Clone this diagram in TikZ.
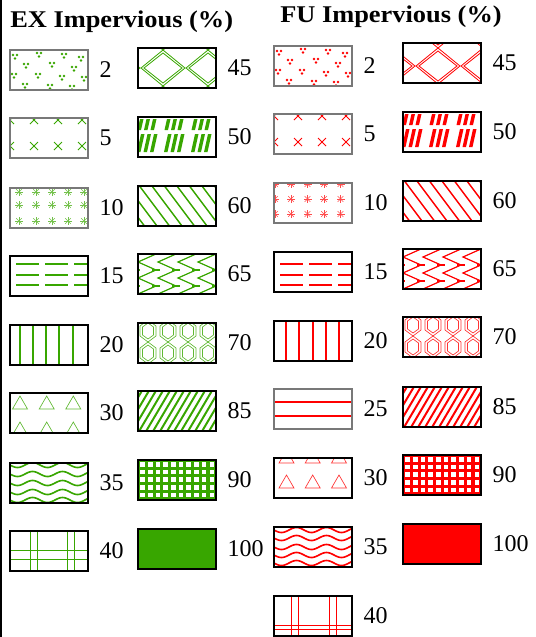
\documentclass[tikz,border=0pt]{standalone}
\usepackage{fontspec}
\setmainfont{Liberation Serif}
\usepackage{graphicx}
\definecolor{exg}{RGB}{56,166,0}
\definecolor{fur}{RGB}{255,0,0}
\definecolor{bgray}{RGB}{120,120,120}
\tikzset{
 boxk/.style={draw=black, line width=1.5pt, minimum width=58.5pt, minimum height=30pt, inner sep=0pt, outer sep=0pt, anchor=north west},
 boxg/.style={boxk, draw=bgray},
 lbl/.style={anchor=west, inner sep=0pt, font=\fontsize{18}{20}\selectfont},
 ttl/.style={anchor=base west, inner sep=0pt, font=\bfseries\fontsize{18}{20}\selectfont},
}
\newcommand{\pbox}[6]{%
  \begin{scope}[shift={(#2,#3)}]
    \clip (0,0) rectangle (78,40);
    #6
  \end{scope}
  \node[#4] (#1) at (#2,#3) {};
  \node[lbl] (#1l) at ([xshift=8.5pt]#1.east) {#5};
}
\newcommand{\pdots}[1]{\foreach \cx/\cy in {3/5, 27/3, 52/4, 69/7, 14/14, 40/13, 62/17, 2/24, 26/24, 50/26, 72/27, 13/34, 38/35, 60/36}{%
   \fill[#1] (\cx,\cy) circle[radius=0.95pt] (\cx+4,\cy) circle[radius=0.95pt] (\cx+2,\cy+3.5) circle[radius=0.95pt];}}
\newcommand{\pcross}[1]{\foreach \cy in {2,28}{\foreach \cx in {0,24,48,72}{\draw[#1,line width=0.6pt] (\cx-4,\cy-4) -- (\cx+4,\cy+4) (\cx-4,\cy+4) -- (\cx+4,\cy-4);}}}
\newcommand{\pstar}[3]{\foreach \cy in {#3}{\foreach \cx in {#2}{\foreach \a in {0,45,90,135}{\draw[#1,line width=0.45pt] (\cx,\cy) ++(\a:3pt) -- ++(\a+180:6pt);}}}}
\newcommand{\pdash}[2]{\foreach \cy in {#2}{\foreach \cx in {6,35,64}{\draw[#1,line width=1.5pt] (\cx,\cy) -- ++(23,0);}}}
\newcommand{\pvert}[2]{\foreach \cx in {#2}{\draw[#1,line width=1.5pt] (\cx,-2) -- (\cx,42);}}
\newcommand{\phor}[2]{\foreach \cy in {#2}{\draw[#1,line width=1.5pt] (-2,\cy) -- (80,\cy);}}
\newcommand{\ptri}[3]{\foreach \cy in {#3}{\foreach \cx in {#2}{\draw[#1,line width=0.5pt] (\cx,\cy) -- (\cx+7.5,\cy+13) -- (\cx-7.5,\cy+13) -- cycle;}}}
\newcommand{\pwave}[2]{\foreach \cy in {#2}{\draw[#1,line width=1.2pt] plot[domain=-2:80,samples=60,smooth] (\x,{\cy+2.5*sin(12*\x)});}}
\newcommand{\pplaid}[3]{\foreach \cx in {#2}{\draw[#1,line width=0.7pt] (\cx,-2) -- (\cx,42);}\foreach \cy in {#3}{\draw[#1,line width=0.7pt] (-2,\cy) -- (80,\cy);}}
\newcommand{\pdiam}[3]{\foreach \i in {-1,0,1,2}{\foreach \j in {-1,0,1}{\begin{scope}[shift={({#2+45*\i},{#3+36*\j})}]\draw[#1,line width=0.6pt] (0,-18) -- (22,0) -- (0,18) -- (-22,0) -- cycle (0,-15) -- (19,0) -- (0,15) -- (-19,0) -- cycle;\end{scope}}}}
\newcommand{\pbars}[1]{\foreach \g in {2,29,56,83}{\foreach \b in {0,6.5,13}{\fill[#1] (\g+\b,2) -- ++(3.5,0) -- ++(-2.5,11) -- ++(-3.5,0) -- cycle; \fill[#1] (\g+\b+1,17) -- ++(3.5,0) -- ++(-4,18) -- ++(-3.5,0) -- cycle;}}}
\newcommand{\phatchb}[2]{\foreach \k in {-6,...,7}{\draw[#1,line width=1.1pt] ({#2+12.5*\k},-2) -- ++(33,44);}}
\newcommand{\phatchf}[2]{\foreach \k in {-4,...,14}{\draw[#1,line width=1.5pt] ({#2+7*\k},42) -- ++(26,-44);}}
\newcommand{\pzig}[2]{\foreach \cx in {-20,0,...,80}{\draw[#1,line width=0.9pt] (\cx+#2,-8) -- ++(18,8) -- ++(-18,8) -- ++(18,8) -- ++(-18,8) -- ++(18,8) -- ++(-18,8) -- ++(18,8) -- ++(-18,8);
  \foreach \ty in {0,16,32}{\draw[#1,line width=0.9pt] (\cx+#2+14,\ty) -- ++(8,0);}}}
\newcommand{\phex}[3]{\foreach \cx in {#2}{\foreach \cy in {#3}{\draw[#1,line width=0.5pt] (\cx,\cy-11) -- (\cx+8,\cy-5) -- (\cx+8,\cy+5) -- (\cx,\cy+11) -- (\cx-8,\cy+5) -- (\cx-8,\cy-5) -- cycle (\cx,\cy-8) -- (\cx+5.5,\cy-4) -- (\cx+5.5,\cy+4) -- (\cx,\cy+8) -- (\cx-5.5,\cy+4) -- (\cx-5.5,\cy-4) -- cycle;}}}
\newcommand{\pgrid}[1]{\fill[#1] (0,0) rectangle (78,40); \foreach \i in {0,...,10}{\foreach \j in {0,...,5}{\fill[white] (\i*7.7+2.2,\j*7.7+2) rectangle ++(4.6,4.6);}}}
\newcommand{\psolid}[1]{\fill[#1] (0,0) rectangle (78,40);}
\begin{document}
\begin{tikzpicture}[x=0.75pt,y=-0.75pt]
\useasboundingbox (0,0) rectangle (536,637);
\draw[line width=1.9pt] (1.2,0) -- (1.2,637);
\node[ttl] (exttl) at (10,27) {\scalebox{1.1}[1]{EX Impervious (\%)}};
\node[ttl] (futtl) at (280,22.5) {\scalebox{1.1}[1]{FU Impervious (\%)}};
% EX left
\pbox{ex2}{10}{50}{boxg}{2}{\pdots{exg}}
\pbox{ex5}{10}{118}{boxg}{5}{\pcross{exg}}
\pbox{ex10}{10}{188}{boxg}{10}{\pstar{exg!70}{9,26,42,58,74}{4,17,33}}
\pbox{ex15}{10}{256}{boxk}{15}{\pdash{exg}{8,19,29}}
\pbox{ex20}{10}{325}{boxk}{20}{\pvert{exg}{10,23,36,49,63}}
\pbox{ex30}{10}{393}{boxk}{30}{\ptri{exg!80}{10,36.7,63.3}{3,29}}
\pbox{ex35}{10}{463}{boxk}{35}{\pwave{exg}{2,11,20,29,37}}
\pbox{ex40}{10}{531}{boxk}{40}{\pplaid{exg}{20,27,57,64}{19,28}}
% EX right
\pbox{ex45}{138}{48}{boxk}{45}{\pdiam{exg}{25}{20}}
\pbox{ex50}{138}{117}{boxk}{50}{\pbars{exg}}
\pbox{ex60}{138}{186}{boxk}{60}{\phatchb{exg}{0}}
\pbox{ex65}{138}{254}{boxk}{65}{\pzig{exg}{0}}
\pbox{ex70}{138}{323}{boxk}{70}{\phex{exg!80}{10,30,50,70}{8,30}}
\pbox{ex85}{138}{391}{boxk}{85}{\phatchf{exg}{0}}
\pbox{ex90}{138}{460}{boxk}{90}{\pgrid{exg}}
\pbox{ex100}{138}{529}{boxk}{100}{\psolid{exg}}
% FU left
\pbox{fu2}{274}{46}{boxg}{2}{\pdots{fur}}
\pbox{fu5}{274}{114}{boxg}{5}{\pcross{fur}}
\pbox{fu10}{274}{183}{boxg}{10}{\pstar{fur!70}{1,17,33.5,50,66.5}{1,16,31}}
\pbox{fu15}{274}{252}{boxk}{15}{\pdash{fur}{12,23,33}}
\pbox{fu20}{274}{321}{boxk}{20}{\pvert{fur}{12,25,38.5,52,65}}
\pbox{fu25}{274}{389}{boxg}{25}{\phor{fur}{13,27}}
\pbox{fu30}{274}{458}{boxk}{30}{\ptri{fur!80}{12.5,38.7,65}{-8,17}}
\pbox{fu35}{274}{527}{boxk}{35}{\pwave{fur}{3,11,20,28,36}}
\pbox{fu40}{274}{596}{boxk}{40}{\pplaid{fur}{17,24,55,62}{29,33}}
% FU right
\pbox{fu45}{403}{43}{boxk}{45}{\pdiam{fur}{35}{23}}
\pbox{fu50}{403}{112}{boxk}{50}{\pbars{fur}}
\pbox{fu60}{403}{181}{boxk}{60}{\phatchb{fur}{0}}
\pbox{fu65}{403}{249}{boxk}{65}{\pzig{fur}{0}}
\pbox{fu70}{403}{317}{boxk}{70}{\phex{fur!80}{10,30,50,70}{8,30}}
\pbox{fu85}{403}{387}{boxk}{85}{\phatchf{fur}{0}}
\pbox{fu90}{403}{455}{boxk}{90}{\pgrid{fur}}
\pbox{fu100}{403}{524}{boxk}{100}{\psolid{fur}}
\end{tikzpicture}
\end{document}
